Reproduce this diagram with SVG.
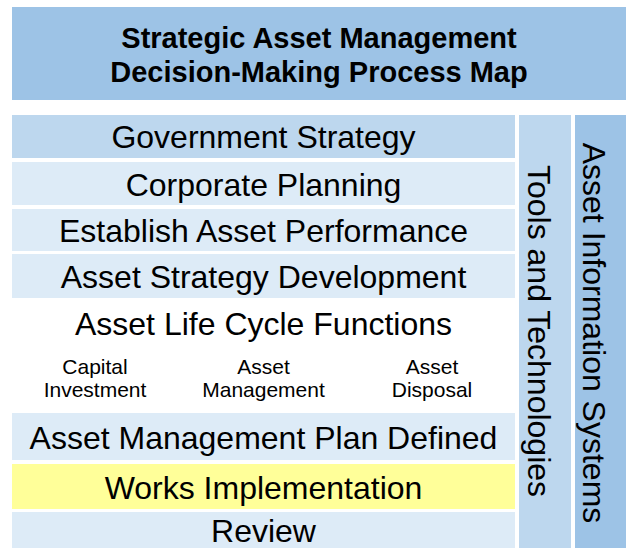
<svg xmlns="http://www.w3.org/2000/svg" width="626" height="548" viewBox="0 0 626 548">
<style>
text{font-family:"Liberation Sans",Arial,sans-serif;fill:#000;text-anchor:middle}
.t{font-size:29px;font-weight:bold}
.r{font-size:32px}
.s{font-size:21px}
.v{font-size:32px}
.mid{fill:#BDD7EE}
.lt{fill:#DDEBF7}
.dk{fill:#9DC3E6}
.yl{fill:#FFFF99}
</style>
<rect width="626" height="548" fill="#fff"/>
<g id="header"><rect class="dk" x="12" y="7" width="614" height="93"/>
<text class="t" x="319" y="48">Strategic Asset Management</text>
<text class="t" x="319" y="82">Decision-Making Process Map</text></g>
<g id="gov"><rect class="mid" x="12" y="115" width="503" height="43"/><text class="r" x="263.5" y="148">Government Strategy</text></g>
<g id="corp"><rect class="lt" x="12" y="162" width="503" height="43"/><text class="r" x="263.5" y="196">Corporate Planning</text></g>
<g id="perf"><rect class="lt" x="12" y="209" width="503" height="42"/><text class="r" x="263.5" y="242">Establish Asset Performance</text></g>
<g id="strat"><rect class="lt" x="12" y="254" width="503" height="44"/><text class="r" x="263.5" y="288">Asset Strategy Development</text></g>
<g id="life"><text class="r" x="263.5" y="335">Asset Life Cycle Functions</text>
<text class="s" x="95" y="374">Capital</text><text class="s" x="95" y="397">Investment</text>
<text class="s" x="263.5" y="374">Asset</text><text class="s" x="263.5" y="397">Management</text>
<text class="s" x="432" y="374">Asset</text><text class="s" x="432" y="397">Disposal</text></g>
<g id="amp"><rect class="lt" x="12" y="413" width="503" height="47"/><text class="r" x="263.5" y="449">Asset Management Plan Defined</text></g>
<g id="works"><rect class="yl" x="12" y="464" width="503" height="45"/><text class="r" x="263.5" y="499">Works Implementation</text></g>
<g id="review"><rect class="lt" x="12" y="512" width="503" height="36"/><text class="r" x="263.5" y="542">Review</text></g>
<g id="tools"><rect class="mid" x="519" y="115" width="52" height="433"/><text class="v" transform="translate(528 331) rotate(90)">Tools and Technologies</text></g>
<g id="ais"><rect class="dk" x="575" y="115" width="51" height="433"/><text class="v" transform="translate(583 333) rotate(90)">Asset Information Systems</text></g>
<g id="connectors"></g>
</svg>
